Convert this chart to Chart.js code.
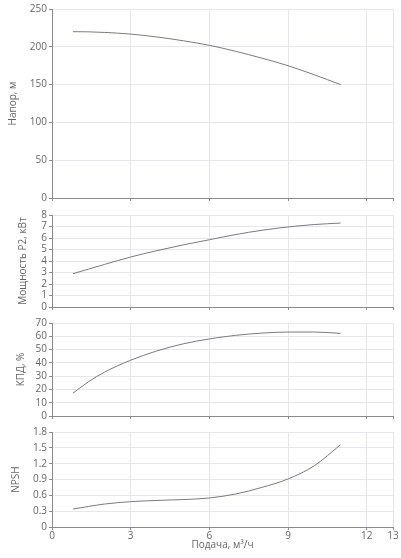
<!DOCTYPE html>
<html>
<head>
<meta charset="utf-8">
<script src="https://cdn.jsdelivr.net/npm/chart.js@4.4.1/dist/chart.umd.min.js"></script>
<style>
    body { margin: 0; background: #fff; width: 401px; height: 558px; position: relative; overflow: hidden; }
    .panel { position: absolute; left: 0; width: 401px; }
</style>
</head>
<body>
<div class="panel" style="top:0;height:206px"><canvas id="headChart"></canvas></div>
<div class="panel" style="top:206px;height:109px"><canvas id="powerChart"></canvas></div>
<div class="panel" style="top:315px;height:109px"><canvas id="effChart"></canvas></div>
<div class="panel" style="top:424px;height:134px"><canvas id="npshChart"></canvas></div>
<script>
// data
const flow = [0.8, 1.4, 2, 3, 4, 5, 6, 7, 8, 9, 10, 11];
const head = [220, 219.8, 219, 216.8, 213, 208, 202, 194, 185, 175, 163, 150];
const power = [2.9, 3.3, 3.7, 4.35, 4.9, 5.4, 5.85, 6.3, 6.67, 6.96, 7.17, 7.3];
const efficiency = [17.2, 25.9, 33, 42, 49, 54.3, 58, 60.7, 62.4, 63.2, 63.2, 62.2];
const npsh = [0.34, 0.39, 0.435, 0.48, 0.503, 0.52, 0.55, 0.625, 0.75, 0.91, 1.16, 1.56];

const flowTicks = [0, 3, 6, 9, 12, 13];
const headTicks = [0, 50, 100, 150, 200, 250];
const powerTicks = [0, 1, 2, 3, 4, 5, 6, 7, 8];
const effTicks = [0, 10, 20, 30, 40, 50, 60, 70];
const npshTicks = [0, 0.3, 0.6, 0.9, 1.2, 1.5, 1.8];

const gridColor = '#e6e6ec';
const axisColor = '#8a8a8a';
const labelColor = '#666';
const font = { family: "'Open Sans', sans-serif", size: 10 };

const makePanel = (id, values, yTicks, yTitle, titlePad, padTop, last) => new Chart(document.getElementById(id), {
    type: 'line',
    data: {
        datasets: [{
            data: flow.map((q, i) => ({ x: q, y: values[i] })),
            borderColor: '#7a7a7a',
            borderWidth: 1,
            pointRadius: 0,
            cubicInterpolationMode: 'monotone',
            fill: false
        }]
    },
    options: {
        animation: false,
        responsive: true,
        maintainAspectRatio: false,
        layout: { padding: { top: padTop, right: 8, bottom: 0, left: 0 } },
        plugins: { legend: { display: false }, tooltip: { enabled: false } },
        scales: {
            x: {
                type: 'linear',
                min: 0,
                max: 13,
                afterBuildTicks: s => { s.ticks = flowTicks.map(v => ({ value: v })); },
                afterFit: s => { s.height = last ? 31 : 5; },
                grid: { color: gridColor, tickColor: axisColor, tickLength: 3 },
                border: { color: axisColor },
                ticks: { display: last, color: labelColor, font, padding: 0, maxRotation: 0, autoSkip: false },
                title: { display: last, text: 'Подача, м³/ч', color: labelColor, font, padding: { top: 0, bottom: 7 } }
            },
            y: {
                min: yTicks[0],
                max: yTicks[yTicks.length - 1],
                afterBuildTicks: s => { s.ticks = yTicks.map(v => ({ value: v })); },
                afterFit: s => { s.width = 52; },
                grid: { color: gridColor, tickColor: axisColor, tickLength: 3 },
                border: { color: axisColor },
                ticks: { color: labelColor, font, padding: 2, autoSkip: false, callback: v => String(v) },
                title: { display: true, text: yTitle, color: labelColor, font, padding: { top: titlePad, bottom: 0 } }
            }
        }
    }
});

makePanel('headChart', head, headTicks, 'Напор, м', 7, 9, false);
makePanel('powerChart', power, powerTicks, 'Мощность P2, кВт', 17, 9, false);
makePanel('effChart', efficiency, effTicks, 'КПД, %', 15, 8, false);
makePanel('npshChart', npsh, npshTicks, 'NPSH', 10, 8, true);
</script>
</body>
</html>
